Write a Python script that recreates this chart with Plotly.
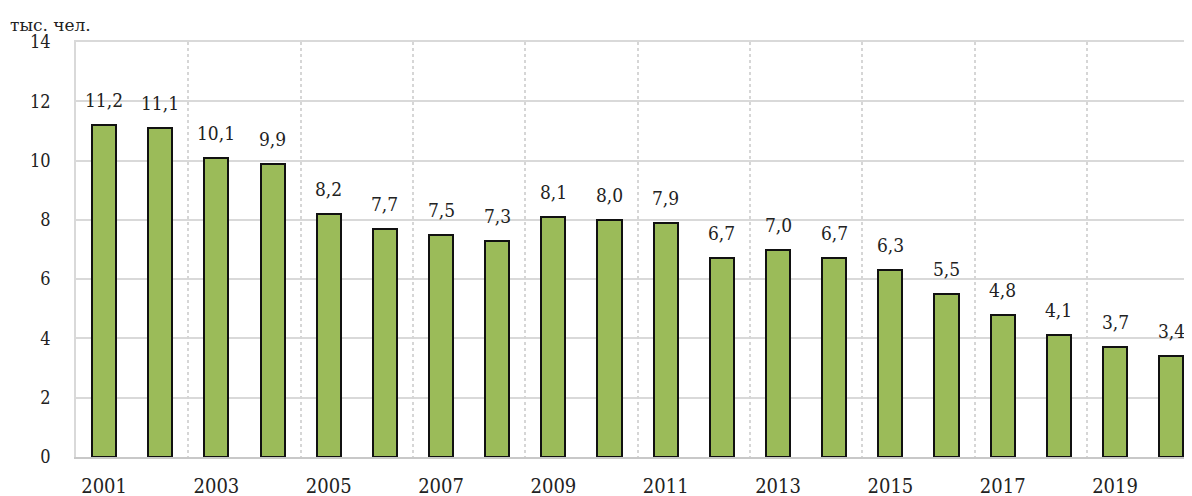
import plotly.graph_objects as go

years = list(range(2001, 2021))
values = [11.2, 11.1, 10.1, 9.9, 8.2, 7.7, 7.5, 7.3, 8.1, 8.0, 7.9, 6.7, 7.0, 6.7, 6.3, 5.5, 4.8, 4.1, 3.7, 3.4]
labels = [f"{v:.1f}".replace(".", ",") for v in values]
x_ticks = list(range(2001, 2021, 2))
y_ticks = list(range(0, 15, 2))
unit_label = "тыс. чел."

FONT = "DejaVu Serif Condensed, DejaVu Serif"
FONT2 = "DejaVu Serif"
XR = [2000.5, 2020.37]

fig = go.Figure()
fig.add_trace(go.Bar(
    x=years, y=values,
    marker=dict(color="#9BBB59", line=dict(color="#111", width=2)),
    width=0.43,
))
fig.add_trace(go.Scatter(x=XR, y=[0, 0], xaxis="x2", mode="markers",
                         marker=dict(opacity=0), hoverinfo="skip", showlegend=False))

for yr, v, lab in zip(years, values, labels):
    fig.add_annotation(x=yr, y=v, text=lab, showarrow=False, yanchor="bottom", yshift=12,
                       font=dict(family=FONT, size=19, color="#222"))

fig.update_layout(
    width=1184, height=488,
    margin=dict(l=68, r=0, t=34, b=39, autoexpand=False),
    plot_bgcolor="white", paper_bgcolor="white",
    showlegend=False,
    font=dict(family=FONT, size=18, color="#222"),
    xaxis=dict(range=XR, tickvals=x_ticks, ticktext=[str(t) for t in x_ticks],
               showgrid=False, showline=True, linecolor="#c8c8c8", linewidth=2,
               ticks="outside", ticklen=10, tickcolor="rgba(0,0,0,0)", automargin=False,
               tickfont=dict(family=FONT, size=20, color="#222")),
    xaxis2=dict(range=XR, overlaying="x", side="top", tickvals=[2002.5 + 2 * k for k in range(9)],
                showticklabels=False, showgrid=True, gridcolor="#d6d6d6", griddash="dot",
                gridwidth=1.5, zeroline=False, showline=True, linecolor="#d9d9d9", linewidth=1.5,
                automargin=False),
    yaxis=dict(range=[0, 14], tickvals=y_ticks, showgrid=True, gridcolor="#d9d9d9", gridwidth=1.5,
               zeroline=False, ticks="outside", ticklen=20, tickcolor="rgba(0,0,0,0)",
               showline=True, linecolor="#d9d9d9", linewidth=1.5, automargin=False,
               tickfont=dict(family=FONT, size=18, color="#222")),
    bargap=0,
)
fig.add_annotation(text=unit_label, xref="paper", yref="paper", x=-68 / 1116, y=1.0, yshift=17,
                   xanchor="left", yanchor="middle", showarrow=False,
                   font=dict(family=FONT2, size=17, color="#222"))
fig.write_html("out.html")
